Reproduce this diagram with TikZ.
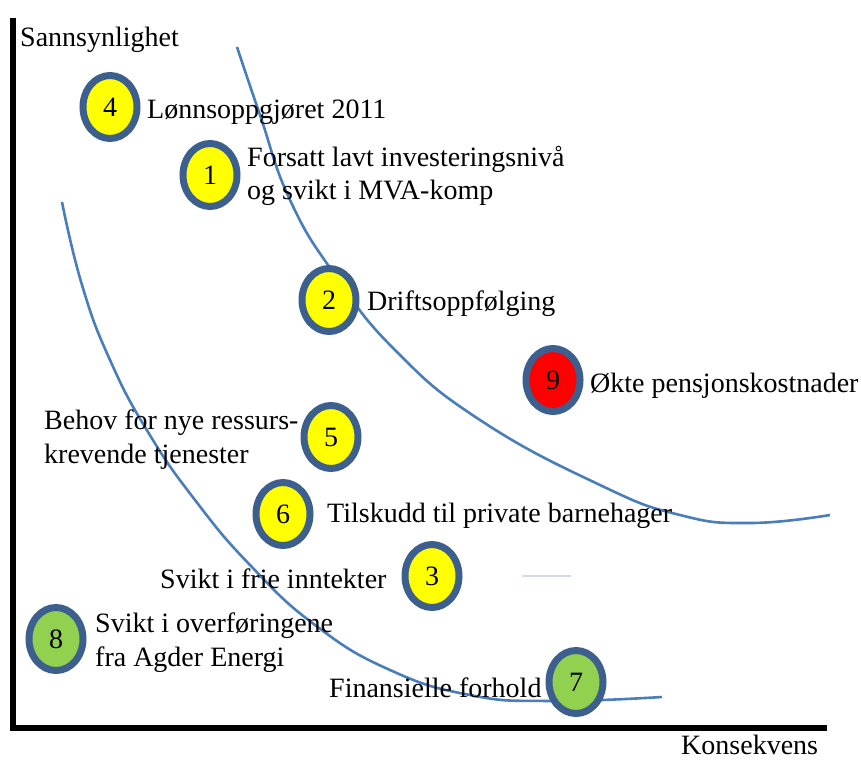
\documentclass[tikz,border=0pt]{standalone}
\usepackage{fontspec}
\setmainfont{Liberation Serif}
\usetikzlibrary{shapes.geometric}
\definecolor{ringblue}{HTML}{3C5F8E}
\definecolor{curveblue}{HTML}{4A7EBB}
\definecolor{dotyellow}{HTML}{FFFF00}
\definecolor{dotred}{HTML}{FF0000}
\definecolor{dotgreen}{HTML}{92D050}
\definecolor{faint}{HTML}{D3DBE8}
\tikzset{
  risk/.style={ellipse, draw=ringblue, line width=7pt, minimum width=54pt, minimum height=63pt, inner sep=0pt, font=\fontsize{28}{33}\selectfont},
  lbl/.style={anchor=base west, inner sep=0pt, font=\fontsize{28}{33}\selectfont},
  curve/.style={draw=curveblue, line width=2.6pt},
  axis/.style={line width=6pt, draw=black}
}
\begin{document}
\begin{tikzpicture}[x=1pt,y=-1pt]
\useasboundingbox (0,0) rectangle (861,760);
% axes
\coordinate (top) at (13,18);
\coordinate (origin) at (13,728);
\coordinate (right) at (827,728);
\draw[axis] (top) -- (origin) -- (right);
% curves
\draw[curve] plot[smooth, tension=0.8] coordinates {(237,47) (260,115) (290,200) (335,275) (395,350) (480,420) (600,485) (680,515) (750,523) (830,515)};
\draw[curve] plot[smooth, tension=0.8] coordinates {(62,202) (82,285) (110,360) (148,432) (195,500) (250,565) (315,625) (390,670) (470,695) (550,701) (662,697)};
% faint line
\coordinate (fa) at (522,576);
\coordinate (fb) at (571,576);
\draw[faint, line width=2pt] (fa) -- (fb);
% axis labels
\node[lbl] (ylab) at (20,47) {Sannsynlighet};
\node[lbl] (xlab) at (681,754) {Konsekvens};
% risks
\node[risk, fill=dotyellow] (r4) at (110,107) {4};
\node[lbl] (t4) at (147,118) {Lønnsoppgjøret 2011};
\node[risk, fill=dotyellow] (r1) at (210,175) {1};
\node[lbl] (t1a) at (247,166) {Forsatt lavt investeringsnivå};
\node[lbl] (t1b) at (247,199) {og svikt i MVA-komp};
\node[risk, fill=dotyellow] (r2) at (329,300) {2};
\node[lbl] (t2) at (367,310) {Driftsoppfølging};
\node[risk, fill=dotred] (r9) at (553,380) {9};
\node[lbl] (t9) at (590,392) {Økte pensjonskostnader};
\node[risk, fill=dotyellow] (r5) at (331,437) {5};
\node[lbl] (t5a) at (44,429) {Behov for nye ressurs-};
\node[lbl] (t5b) at (44,463) {krevende tjenester};
\node[risk, fill=dotyellow] (r6) at (283,514) {6};
\node[lbl] (t6) at (327,522) {Tilskudd til private barnehager};
\node[risk, fill=dotyellow] (r3) at (432,576) {3};
\node[lbl] (t3) at (160,588) {Svikt i frie inntekter};
\node[risk, fill=dotgreen] (r8) at (56,639) {8};
\node[lbl] (t8a) at (95,632) {Svikt i overføringene};
\node[lbl] (t8b) at (95,666) {fra Agder Energi};
\node[risk, fill=dotgreen] (r7) at (576,682) {7};
\node[lbl] (t7) at (329,697) {Finansielle forhold};
\end{tikzpicture}
\end{document}
